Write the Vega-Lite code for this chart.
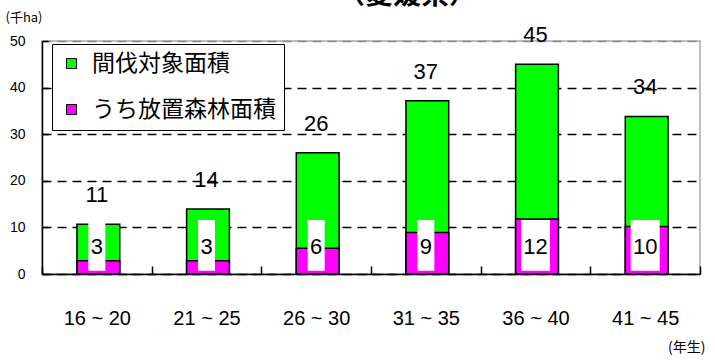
{
  "$schema": "https://vega.github.io/schema/vega-lite/v6.json",
  "width": 658,
  "height": 233,
  "autosize": {"type": "none"},
  "padding": {"left": 42, "top": 41, "right": 15, "bottom": 86},
  "background": "white",
  "title": {"text": "（愛媛県）", "font": "Noto Sans CJK JP", "fontSize": 28, "fontWeight": "bold", "anchor": "middle", "dx": 36, "dy": 27, "offset": 0, "baseline": "bottom", "color": "black"},
  "config": {
    "view": {"stroke": "#aaaaaa", "strokeWidth": 1.5},
    "axis": {"labelColor": "black", "titleColor": "black", "titleFontWeight": "normal"}
  },
  "data": {"values": [
    {"age": "16 ~ 20", "total": 10.7, "sub": 2.85},
    {"age": "21 ~ 25", "total": 13.95, "sub": 2.85},
    {"age": "26 ~ 30", "total": 26.0, "sub": 5.5},
    {"age": "31 ~ 35", "total": 37.2, "sub": 8.9},
    {"age": "36 ~ 40", "total": 45.0, "sub": 11.8},
    {"age": "41 ~ 45", "total": 33.8, "sub": 10.2}
  ]},
  "encoding": {
    "x": {
      "field": "age", "type": "nominal", "sort": null,
      "scale": {"paddingInner": 0, "paddingOuter": 0},
      "axis": {
        "title": "(年生)", "titleFont": "Noto Sans CJK JP", "titleFontSize": 14,
        "titleX": 663, "titleY": 73, "titleAlign": "right", "titleBaseline": "middle", "titleAnchor": null,
        "labelFont": "Liberation Sans", "labelFontSize": 20, "labelAngle": 0, "labelPadding": 42,
        "tickBand": "extent", "tickSize": -8, "tickColor": "black", "tickWidth": 1.5,
        "domainColor": "black", "domainWidth": 1.5, "grid": false
      }
    }
  },
  "layer": [
    {
      "mark": {"type": "bar", "stroke": "black", "strokeWidth": 1.5, "width": {"band": 0.39}, "xOffset": 1.5},
      "encoding": {
        "y": {
          "field": "total", "type": "quantitative",
          "scale": {"domain": [0, 50], "nice": false},
          "axis": {
            "title": "(千ha)", "titleAngle": 0, "titleX": -37, "titleY": -24, "titleAlign": "left", "titleBaseline": "middle",
            "titleFont": "Noto Sans CJK JP", "titleFontSize": 13,
            "values": [0, 10, 20, 30, 40, 50],
            "labelFont": "Liberation Sans", "labelFontSize": 14, "labelPadding": 23,
            "tickSize": -6, "tickColor": "black", "tickWidth": 1.5,
            "grid": true, "gridDash": [9, 6], "gridWidth": 1.6,
            "gridColor": {"condition": {"test": "datum.value === 50", "value": "#888888"}, "value": "black"},
            "domainColor": "black", "domainWidth": 1.5
          }
        },
        "color": {
          "datum": "間伐対象面積",
          "type": "nominal",
          "scale": {"domain": ["間伐対象面積", "うち放置森林面積"], "range": ["#00ff00", "#ff00ff"]},
          "legend": {
            "title": null, "orient": "none", "legendX": 10, "legendY": 3,
            "symbolType": "square", "symbolSize": 100, "symbolStrokeColor": "black", "symbolStrokeWidth": 1,
            "labelFont": "Noto Sans CJK JP", "labelFontSize": 23, "labelColor": "black", "labelLimit": 400,
            "rowPadding": 22, "padding": 8, "labelOffset": 9,
            "strokeColor": "black", "fillColor": "white"
          }
        }
      }
    },
    {
      "mark": {"type": "bar", "stroke": "black", "strokeWidth": 1.5, "width": {"band": 0.39}, "xOffset": 1.5},
      "encoding": {
        "y": {"field": "sub", "type": "quantitative"},
        "color": {"datum": "うち放置森林面積", "type": "nominal"}
      }
    },
    {
      "transform": [{"filter": "datum.sub < 9.5"}],
      "mark": {"type": "bar", "fill": "white", "width": 17},
      "encoding": {"y": {"datum": 11.6}, "y2": {"datum": 0.7}}
    },
    {
      "transform": [{"filter": "datum.sub >= 9.5"}],
      "mark": {"type": "bar", "fill": "white", "width": 29},
      "encoding": {"y": {"datum": 11.6}, "y2": {"datum": 0.7}}
    },
    {
      "mark": {"type": "text", "font": "Liberation Sans", "fontSize": 22, "baseline": "middle", "color": "black"},
      "encoding": {"y": {"datum": 5.9}, "text": {"field": "sub", "type": "quantitative", "format": ".0f"}}
    },
    {
      "mark": {"type": "text", "font": "Liberation Sans", "fontSize": 22, "baseline": "middle", "dy": -29, "color": "black"},
      "encoding": {"y": {"field": "total", "type": "quantitative"}, "text": {"field": "total", "type": "quantitative", "format": ".0f"}}
    }
  ]
}
